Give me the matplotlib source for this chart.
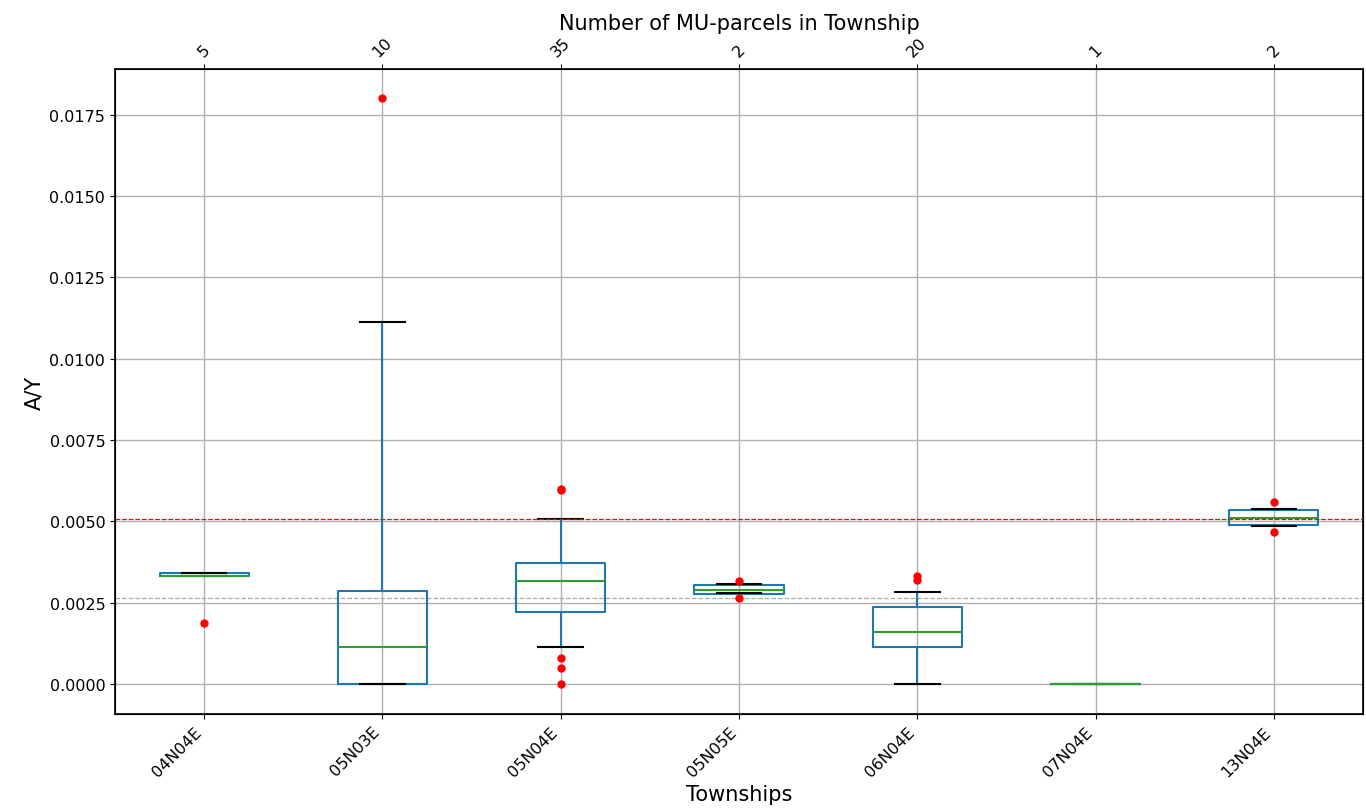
import numpy as np
import matplotlib
matplotlib.use('Agg')
import matplotlib.pyplot as plt

# box statistics per township
townships = ['04N04E', '05N03E', '05N04E', '05N05E', '06N04E', '07N04E', '13N04E']
parcel_counts = ['5', '10', '35', '2', '20', '1', '2']
whislo = [0.00331, 0.0, 0.00115, 0.00279, 0.0, 0.0, 0.00487]
q1 = [0.00331, 0.0, 0.00220, 0.00277, 0.00113, 0.0, 0.00488]
med = [0.00332, 0.00114, 0.00318, 0.00290, 0.00159, 0.0, 0.00511]
q3 = [0.00340, 0.00285, 0.00373, 0.00304, 0.00238, 0.0, 0.00536]
whishi = [0.00340, 0.01114, 0.00507, 0.00307, 0.00282, 0.0, 0.00538]
fliers = [
    [0.00189],
    [0.01802],
    [0.00600, 0.00598, 0.00080, 0.00048, 0.0],
    [0.00317, 0.00264],
    [0.00333, 0.00320],
    [],
    [0.00559, 0.00468],
]
red_line = 0.00507
grey_line = 0.00264

stats = []
for i, name in enumerate(townships):
    stats.append({'label': name, 'whislo': whislo[i], 'q1': q1[i], 'med': med[i],
                  'q3': q3[i], 'whishi': whishi[i], 'fliers': fliers[i]})

fig = plt.figure(figsize=(13.66, 8.12), dpi=100)
ax = fig.add_axes([0.0842, 0.1195, 0.9136, 0.7943])

blue = '#1f77b4'
ax.bxp(stats, positions=np.arange(1, len(townships) + 1), widths=0.5,
       boxprops=dict(color=blue, linewidth=1.5),
       whiskerprops=dict(color=blue, linewidth=1.5),
       capprops=dict(color='black', linewidth=1.5),
       medianprops=dict(color='#2ca02c', linewidth=1.5),
       flierprops=dict(marker='o', markerfacecolor='red', markeredgecolor='red', markersize=5))

ax.axhline(red_line, color='red', linestyle='--', linewidth=0.9, zorder=4)
ax.axhline(grey_line, color='#aaaaaa', linestyle='--', linewidth=0.9, zorder=1.5)

ax.grid(True, color='#b0b0b0', linewidth=1.0)
ax.set_axisbelow(True)
ax.set_xlim(0.5, len(townships) + 0.5)
ax.set_ylim(-0.00092, 0.01891)
yt = np.arange(0, 0.0176, 0.0025)
ax.set_yticks(yt)
ax.set_yticklabels(['%.4f' % v for v in yt], fontsize=11.5)
ax.set_xticks(np.arange(1, len(townships) + 1))
ax.set_xticklabels(townships, rotation=45, ha='right', fontsize=11.5)
ax.set_xlabel('Townships', fontsize=15)
ax.set_ylabel('A/Y', fontsize=15)
for s in ax.spines.values():
    s.set_linewidth(1.2)

ax2 = ax.twiny()
ax2.set_xlim(ax.get_xlim())
ax2.set_xticks(np.arange(1, len(townships) + 1))
ax2.set_xticklabels(parcel_counts, rotation=45, fontsize=11.5)
ax2.set_xlabel('Number of MU-parcels in Township', fontsize=15)

fig.savefig('out.png', dpi=100)
